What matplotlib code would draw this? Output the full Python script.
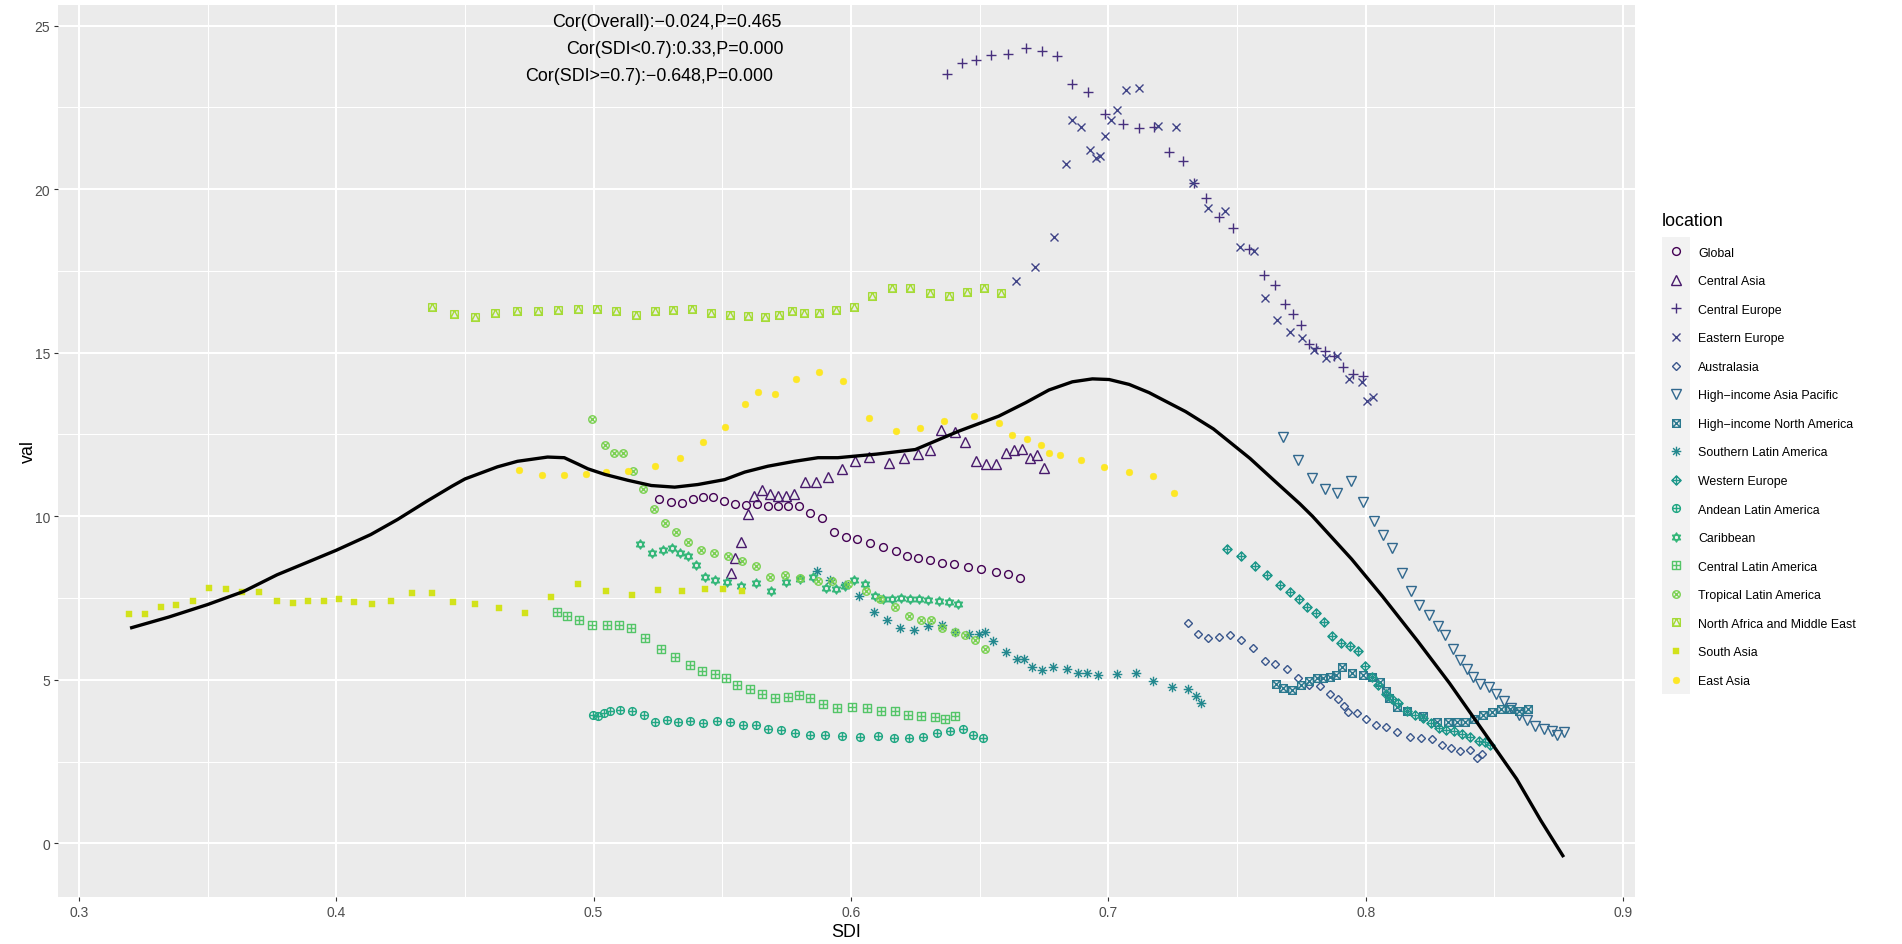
import numpy as np
import matplotlib
matplotlib.use("Agg")
import matplotlib.pyplot as plt
from matplotlib.path import Path
from matplotlib.patches import Rectangle
from matplotlib.ticker import FixedLocator

plt.rcParams['font.family'] = ['Liberation Sans', 'DejaVu Sans']

# ---------------- data ----------------
locations = ["Global", "Central Asia", "Central Europe", "Eastern Europe", "Australasia",
             "High\u2212income Asia Pacific", "High\u2212income North America",
             "Southern Latin America", "Western Europe", "Andean Latin America", "Caribbean",
             "Central Latin America", "Tropical Latin America", "North Africa and Middle East",
             "South Asia", "East Asia"]

global_sdi = [0.5254,0.5302,0.5345,0.5386,0.5424,0.5462,0.5505,0.5549,0.5592,0.5636,0.5679,0.5716,0.5755,0.5797,0.5842,0.5889,0.5934,0.5980,0.6025,0.6075,0.6125,0.6175,0.6216,0.6260,0.6307,0.6352,0.6399,0.6453,0.6506,0.6562,0.6610,0.6655]
global_val = [10.54,10.43,10.41,10.53,10.58,10.59,10.46,10.36,10.35,10.38,10.32,10.32,10.31,10.32,10.11,9.94,9.52,9.36,9.30,9.18,9.05,8.93,8.78,8.71,8.66,8.58,8.53,8.46,8.38,8.31,8.23,8.10]

casia_sdi = [0.5532,0.5548,0.5573,0.5600,0.5624,0.5655,0.5687,0.5718,0.5747,0.5778,0.5820,0.5865,0.5911,0.5964,0.6016,0.6068,0.6148,0.6205,0.6261,0.6308,0.6351,0.6403,0.6444,0.6487,0.6526,0.6565,0.6601,0.6632,0.6665,0.6695,0.6723,0.6749]
casia_val = [8.27,8.72,9.21,10.08,10.63,10.79,10.68,10.61,10.61,10.68,11.06,11.05,11.19,11.45,11.70,11.80,11.62,11.78,11.90,12.02,12.65,12.58,12.27,11.70,11.60,11.60,11.94,12.02,12.06,11.77,11.88,11.48]

ceu_sdi = [0.6373,0.6431,0.6487,0.6544,0.6610,0.6679,0.6742,0.6799,0.6860,0.6921,0.6987,0.7056,0.7119,0.7178,0.7234,0.7288,0.7334,0.7379,0.7431,0.7486,0.7548,0.7604,0.7649,0.7688,0.7719,0.7749,0.7778,0.7808,0.7840,0.7875,0.7910,0.7950,0.7990]
ceu_val = [23.52,23.86,23.95,24.10,24.12,24.31,24.22,24.08,23.21,22.97,22.29,21.99,21.88,21.90,21.13,20.86,20.20,19.74,19.15,18.81,18.16,17.37,17.08,16.48,16.19,15.86,15.28,15.15,15.05,14.90,14.55,14.35,14.30]

eeu_sdi = [0.6642,0.6714,0.6787,0.6834,0.6860,0.6895,0.6927,0.6951,0.6968,0.6987,0.7009,0.7035,0.7068,0.7119,0.7191,0.7262,0.7327,0.7387,0.7455,0.7512,0.7564,0.7610,0.7655,0.7704,0.7751,0.7797,0.7845,0.7890,0.7935,0.7984,0.8006,0.8029]
eeu_val = [17.18,17.62,18.54,20.78,22.12,21.91,21.20,20.94,21.00,21.64,22.11,22.41,23.03,23.08,21.94,21.89,20.20,19.41,19.32,18.23,18.11,16.66,16.01,15.64,15.46,15.08,14.85,14.90,14.20,14.10,13.52,13.64]

aus_sdi = [0.7309,0.7348,0.7388,0.7431,0.7474,0.7517,0.7562,0.7608,0.7649,0.7692,0.7738,0.7779,0.7822,0.7860,0.7894,0.7916,0.7929,0.7964,0.8000,0.8039,0.8079,0.8122,0.8171,0.8214,0.8256,0.8295,0.8331,0.8366,0.8405,0.8431,0.8452]
aus_val = [6.73,6.40,6.28,6.31,6.36,6.22,5.97,5.59,5.47,5.34,5.07,4.83,4.80,4.58,4.42,4.21,4.01,3.99,3.81,3.63,3.56,3.40,3.24,3.22,3.19,3.02,2.91,2.81,2.85,2.60,2.73]

hiap_sdi = [0.7680,0.7735,0.7790,0.7841,0.7890,0.7942,0.7990,0.8031,0.8067,0.8103,0.8141,0.8174,0.8208,0.8244,0.8279,0.8309,0.8338,0.8366,0.8394,0.8418,0.8445,0.8477,0.8506,0.8536,0.8565,0.8595,0.8627,0.8658,0.8691,0.8723,0.8744,0.8769]
hiap_val = [12.42,11.73,11.17,10.82,10.71,11.07,10.44,9.85,9.44,9.03,8.27,7.70,7.30,6.99,6.66,6.38,5.95,5.61,5.34,5.08,4.88,4.78,4.57,4.35,4.13,3.91,3.76,3.60,3.50,3.42,3.30,3.40]

hina_sdi = [0.7653,0.7679,0.7713,0.7749,0.7779,0.7809,0.7835,0.7861,0.7883,0.7909,0.7948,0.7991,0.8026,0.8056,0.8078,0.8091,0.8123,0.8162,0.8223,0.8275,0.8319,0.8353,0.8387,0.8422,0.8457,0.8491,0.8527,0.8561,0.8597,0.8630]
hina_val = [4.88,4.74,4.69,4.85,4.95,5.05,5.07,5.08,5.15,5.39,5.20,5.15,5.10,4.93,4.67,4.44,4.16,4.06,3.88,3.72,3.70,3.70,3.70,3.79,3.91,4.01,4.11,4.11,4.06,4.11]

sla_sdi = [0.5869,0.5918,0.5975,0.6032,0.6091,0.6140,0.6189,0.6245,0.6299,0.6355,0.6405,0.6457,0.6497,0.6522,0.6553,0.6604,0.6643,0.6672,0.6705,0.6741,0.6786,0.6841,0.6883,0.6916,0.6960,0.7032,0.7106,0.7174,0.7247,0.7308,0.7339,0.7358]
sla_val = [8.32,8.06,7.90,7.56,7.08,6.82,6.59,6.52,6.65,6.69,6.45,6.40,6.41,6.45,6.18,5.86,5.64,5.64,5.38,5.31,5.39,5.32,5.22,5.22,5.15,5.18,5.20,4.95,4.77,4.71,4.49,4.29]

weu_sdi = [0.7461,0.7514,0.7569,0.7617,0.7665,0.7704,0.7739,0.7773,0.7808,0.7838,0.7870,0.7905,0.7939,0.7969,0.7996,0.8026,0.8049,0.8078,0.8101,0.8127,0.8161,0.8192,0.8221,0.8253,0.8283,0.8312,0.8342,0.8374,0.8406,0.8439,0.8465,0.8484]
weu_val = [9.01,8.80,8.48,8.19,7.91,7.68,7.46,7.22,7.04,6.77,6.33,6.12,6.03,5.89,5.41,5.08,4.83,4.57,4.42,4.30,4.06,3.91,3.83,3.68,3.52,3.48,3.45,3.35,3.24,3.14,3.11,3.01]

andean_sdi = [0.4997,0.5017,0.5039,0.5065,0.5102,0.5149,0.5194,0.5240,0.5284,0.5326,0.5374,0.5424,0.5478,0.5530,0.5582,0.5630,0.5677,0.5729,0.5784,0.5839,0.5900,0.5966,0.6035,0.6105,0.6167,0.6224,0.6280,0.6333,0.6386,0.6435,0.6474,0.6513]
andean_val = [3.93,3.88,4.00,4.04,4.08,4.06,3.92,3.72,3.78,3.70,3.73,3.68,3.74,3.72,3.63,3.61,3.51,3.47,3.37,3.31,3.32,3.27,3.25,3.28,3.23,3.21,3.26,3.38,3.42,3.49,3.30,3.23]

carib_sdi = [0.5180,0.5227,0.5269,0.5303,0.5335,0.5367,0.5398,0.5431,0.5472,0.5519,0.5573,0.5630,0.5688,0.5747,0.5802,0.5852,0.5904,0.5940,0.5978,0.6012,0.6053,0.6092,0.6124,0.6161,0.6195,0.6230,0.6265,0.6300,0.6340,0.6380,0.6415]
carib_val = [9.15,8.89,8.97,9.03,8.88,8.78,8.50,8.15,8.05,7.99,7.88,7.96,7.73,7.99,8.09,8.13,7.81,7.77,7.88,8.06,7.93,7.57,7.47,7.47,7.49,7.48,7.46,7.44,7.40,7.37,7.32]

cla_sdi = [0.4858,0.4896,0.4942,0.4994,0.5051,0.5098,0.5146,0.5201,0.5260,0.5316,0.5373,0.5422,0.5470,0.5513,0.5558,0.5606,0.5654,0.5703,0.5755,0.5797,0.5842,0.5891,0.5946,0.6004,0.6063,0.6115,0.6170,0.6222,0.6273,0.6325,0.6367,0.6403]
cla_val = [7.06,6.94,6.84,6.67,6.68,6.67,6.58,6.27,5.94,5.71,5.45,5.28,5.17,5.07,4.84,4.71,4.56,4.43,4.46,4.53,4.44,4.26,4.15,4.18,4.14,4.06,4.05,3.93,3.90,3.87,3.80,3.88]

tla_sdi = [0.4995,0.5043,0.5079,0.5115,0.5152,0.5190,0.5234,0.5278,0.5321,0.5365,0.5416,0.5468,0.5522,0.5575,0.5632,0.5686,0.5745,0.5803,0.5870,0.5927,0.5988,0.6060,0.6111,0.6172,0.6224,0.6273,0.6312,0.6355,0.6403,0.6444,0.6483,0.6522]
tla_val = [12.98,12.19,11.94,11.94,11.38,10.82,10.23,9.78,9.51,9.20,8.97,8.87,8.77,8.63,8.47,8.14,8.20,8.12,8.03,8.01,7.93,7.72,7.47,7.23,6.96,6.84,6.83,6.57,6.45,6.37,6.21,5.94]

name_sdi = [0.4373,0.4457,0.4538,0.4618,0.4703,0.4783,0.4862,0.4938,0.5012,0.5087,0.5166,0.5239,0.5310,0.5382,0.5455,0.5529,0.5599,0.5665,0.5721,0.5770,0.5817,0.5875,0.5942,0.6010,0.6083,0.6158,0.6231,0.6306,0.6379,0.6451,0.6518,0.6582]
name_val = [16.41,16.17,16.10,16.20,16.28,16.29,16.31,16.34,16.33,16.28,16.14,16.27,16.30,16.33,16.22,16.14,16.12,16.08,16.15,16.28,16.21,16.21,16.31,16.40,16.73,16.99,16.99,16.82,16.73,16.85,16.97,16.82]

sasia_sdi = [0.3196,0.3257,0.3318,0.3378,0.3442,0.3505,0.3571,0.3635,0.3701,0.3768,0.3832,0.3892,0.3951,0.4009,0.4069,0.4139,0.4212,0.4294,0.4371,0.4452,0.4540,0.4634,0.4732,0.4835,0.4940,0.5048,0.5151,0.5250,0.5345,0.5431,0.5504,0.5576]
sasia_val = [7.00,7.02,7.22,7.28,7.42,7.81,7.78,7.69,7.69,7.42,7.36,7.40,7.40,7.46,7.38,7.32,7.42,7.65,7.65,7.37,7.33,7.18,7.04,7.53,7.93,7.70,7.58,7.75,7.73,7.77,7.77,7.73]

easia_sdi = [0.4711,0.4798,0.4884,0.4969,0.5049,0.5133,0.5237,0.5337,0.5426,0.5512,0.5587,0.5640,0.5706,0.5788,0.5875,0.5970,0.6070,0.6174,0.6269,0.6362,0.6479,0.6574,0.6627,0.6684,0.6738,0.6770,0.6813,0.6895,0.6983,0.7081,0.7174,0.7255]
easia_val = [11.40,11.26,11.26,11.30,11.35,11.38,11.55,11.79,12.27,12.73,13.43,13.80,13.73,14.20,14.41,14.13,12.99,12.62,12.71,12.91,13.06,12.86,12.47,12.36,12.19,11.94,11.88,11.72,11.50,11.35,11.24,10.71]

# smoothed overall fit
fit_sdi = [0.3199,0.335,0.350,0.364,0.377,0.389,0.400,0.4134,0.4238,0.435,0.445,0.450,0.4626,0.4704,0.4821,0.4886,0.4938,0.4978,0.5043,0.5133,0.5224,0.5315,0.5405,0.5509,0.5587,0.5677,0.5781,0.5872,0.5949,0.610,0.625,0.6418,0.6574,0.6678,0.6769,0.686,0.6938,0.7003,0.7081,0.7158,0.7197,0.730,0.7408,0.755,0.765,0.7744,0.7793,0.7945,0.8065,0.820,0.8325,0.845,0.8586,0.868,0.8769]
fit_val = [6.58,6.92,7.30,7.70,8.21,8.60,8.96,9.44,9.90,10.45,10.92,11.14,11.51,11.68,11.81,11.79,11.60,11.45,11.28,11.10,10.94,10.89,10.97,11.12,11.35,11.53,11.68,11.79,11.79,11.90,12.04,12.60,13.06,13.47,13.86,14.11,14.20,14.18,14.03,13.78,13.62,13.20,12.67,11.77,11.05,10.38,10.00,8.69,7.55,6.20,4.90,3.50,1.97,0.70,-0.42]

cor_texts = ["Cor(Overall):\u22120.024,P=0.465", "Cor(SDI<0.7):0.33,P=0.000", "Cor(SDI>=0.7):\u22120.648,P=0.000"]
cor_x = [0.5285, 0.5316, 0.5216]
cor_y = [25.13, 24.30, 23.46]

x_ticks = [0.3, 0.4, 0.5, 0.6, 0.7, 0.8, 0.9]
x_minor = [0.35, 0.45, 0.55, 0.65, 0.75, 0.85]
y_ticks = [0, 5, 10, 15, 20, 25]
y_minor = [2.5, 7.5, 12.5, 17.5, 22.5]
x_limits = (0.2919, 0.9046)
y_limits = (-1.64, 25.63)

# ---------------- marker shapes ----------------
M, L, C = Path.MOVETO, Path.LINETO, Path.CLOSEPOLY

def segs(pairs):
    v, c = [], []
    for a, b in pairs:
        v += [a, b]
        c += [M, L]
    return Path(v, c)

def poly(pts):
    return Path(list(pts) + [pts[0]], [M] + [L] * (len(pts) - 1) + [C])

sq = poly([(-1, -1), (1, -1), (1, 1), (-1, 1)])
dia = poly([(0, -1), (1, 0), (0, 1), (-1, 0)])
circ = Path.unit_circle()
plus_l = segs([((-1, 0), (1, 0)), ((0, -1), (0, 1))])
cross_full = segs([((-1, -1), (1, 1)), ((-1, 1), (1, -1))])
r = 0.7071
cross_in = segs([((-r, -r), (r, r)), ((-r, r), (r, -r))])
tri_up = poly([(0, 1), (-0.866, -0.5), (0.866, -0.5)])
tri_dn = poly([(0, -1), (-0.866, 0.5), (0.866, 0.5)])
sq_tri = Path.make_compound_path(sq, poly([(-1, -1), (0, 1), (1, -1)]))

mk_square_cross = Path.make_compound_path(sq, cross_full)
mk_asterisk = Path.make_compound_path(plus_l, cross_in)
mk_diamond_plus = Path.make_compound_path(dia, plus_l)
mk_circle_plus = Path.make_compound_path(circ, plus_l)
mk_star = Path.make_compound_path(tri_up, tri_dn)
mk_square_plus = Path.make_compound_path(sq, plus_l)
mk_circle_cross = Path.make_compound_path(circ, cross_in)

colors = plt.cm.viridis(np.linspace(0, 1, 16))

series = [
    (global_sdi, global_val, 'o', 5.6, False),
    (casia_sdi, casia_val, '^', 6.6, False),
    (ceu_sdi, ceu_val, '+', 7.4, False),
    (eeu_sdi, eeu_val, 'x', 6.2, False),
    (aus_sdi, aus_val, 'D', 4.5, False),
    (hiap_sdi, hiap_val, 'v', 6.8, False),
    (hina_sdi, hina_val, mk_square_cross, 5.5, False),
    (sla_sdi, sla_val, mk_asterisk, 6.9, False),
    (weu_sdi, weu_val, mk_diamond_plus, 6.6, False),
    (andean_sdi, andean_val, mk_circle_plus, 5.6, False),
    (carib_sdi, carib_val, mk_star, 6.6, False),
    (cla_sdi, cla_val, mk_square_plus, 5.2, False),
    (tla_sdi, tla_val, mk_circle_cross, 5.4, False),
    (name_sdi, name_val, sq_tri, 5.5, False),
    (sasia_sdi, sasia_val, 's', 4.9, True),
    (easia_sdi, easia_val, 'o', 4.9, True),
]

# ---------------- figure ----------------
W, H = 1902, 945
fig = plt.figure(figsize=(W / 100, H / 100), dpi=100)
fig.patch.set_facecolor('white')
ax = fig.add_axes([58 / W, 1 - 898 / H, (1635 - 58) / W, (898 - 6) / H])
ax.set_facecolor('#EBEBEB')
for s in ax.spines.values():
    s.set_visible(False)

handles = []
for (xs, ys, mk, ms, filled), col, lab in zip(series, colors, locations):
    if filled:
        h, = ax.plot(xs, ys, linestyle='none', marker=mk, markersize=ms,
                     markerfacecolor=col, markeredgecolor=col, markeredgewidth=0.3,
                     label=lab, zorder=3)
    else:
        h, = ax.plot(xs, ys, linestyle='none', marker=mk, markersize=ms,
                     markerfacecolor='none', markeredgecolor=col, markeredgewidth=1.0,
                     label=lab, zorder=3)
    handles.append(h)

ax.plot(fit_sdi, fit_val, color='black', lw=2.4, zorder=4, solid_capstyle='butt')

for t, x, y in zip(cor_texts, cor_x, cor_y):
    ax.text(x, y, t, ha='center', va='center', fontsize=12.9, color='black', zorder=5)

ax.set_xlim(*x_limits)
ax.set_ylim(*y_limits)
ax.set_xticks(x_ticks)
ax.set_xticklabels([f"{v:.1f}" for v in x_ticks])
ax.set_yticks(y_ticks)
ax.set_yticklabels([str(v) for v in y_ticks])
ax.xaxis.set_minor_locator(FixedLocator(x_minor))
ax.yaxis.set_minor_locator(FixedLocator(y_minor))
ax.grid(which='major', color='white', lw=1.5, zorder=0)
ax.grid(which='minor', color='white', lw=0.75, zorder=0)
ax.set_axisbelow(True)
ax.tick_params(which='major', length=3.2, width=0.8, color='#333333',
               labelsize=10, labelcolor='#4D4D4D', pad=2.5)
ax.tick_params(which='minor', length=0)

ax.set_xlabel('SDI', fontsize=12.9, labelpad=3)
ax.set_ylabel('val', fontsize=12.9, labelpad=-2)

# ---------------- legend ----------------
fig.text(1662 / W, 1 - 222 / H, 'location', fontsize=12.9, ha='left', va='center')
fs = 8.9
fs_px = fs * 100 / 72
key_w = 28.0
target_first = 252.3   # px from top, centre of first key
target_pitch = 28.55   # px between key centres
ls = 1.0
anchor_top = 244.0
leg = None
for _ in range(4):
    if leg is not None:
        leg.remove()
    leg = fig.legend(handles=handles, labels=locations, loc='upper left',
                     bbox_to_anchor=(1662 / W, 1 - anchor_top / H), frameon=False,
                     fontsize=fs, numpoints=1, handlelength=key_w / fs_px,
                     handleheight=0.7, labelspacing=ls,
                     handletextpad=8 / fs_px, borderpad=0, borderaxespad=0)
    fig.canvas.draw()
    cy = []
    cx = []
    for lh in leg.legend_handles:
        p = lh.get_transform().transform(lh.get_xydata()[1])
        cx.append(p[0])
        cy.append(H - p[1])
    pitch = (cy[-1] - cy[0]) / 15.0
    ls += (target_pitch - pitch) / fs_px
    anchor_top += target_first - cy[0]

leg.set_zorder(5)
kx = np.mean(cx)
fig.patches.append(Rectangle(((kx - key_w / 2) / W, 1 - (cy[-1] + target_pitch / 2) / H),
                             key_w / W, (cy[-1] - cy[0] + target_pitch) / H,
                             transform=fig.transFigure, facecolor='#F2F2F2',
                             edgecolor='none', zorder=1))

fig.savefig('out.png', dpi=100, facecolor='white')
